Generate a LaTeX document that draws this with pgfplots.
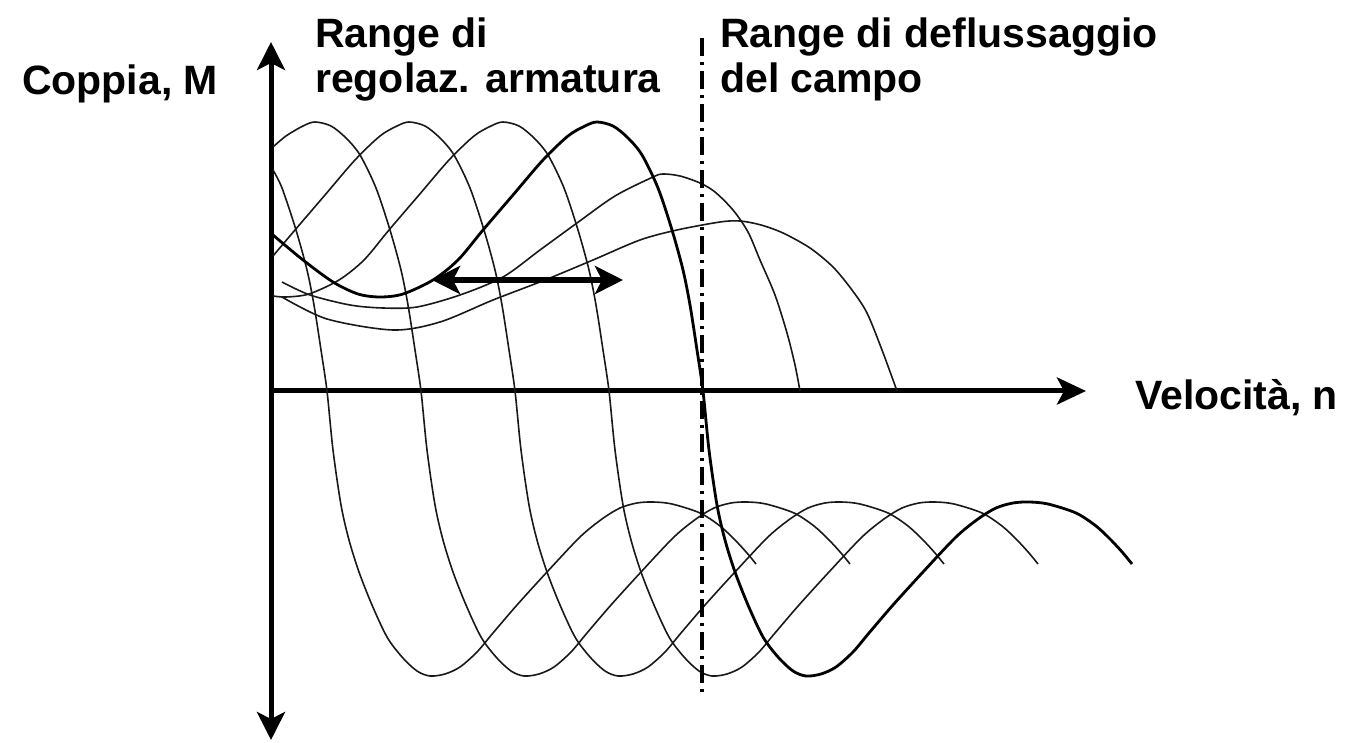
\documentclass[border=0pt]{standalone}
\usepackage{fontspec}
\setmainfont{Liberation Sans}
\usepackage{pgfplots}
\pgfplotsset{compat=1.18}
\usetikzlibrary{arrows.meta}

\begin{document}
\begin{tikzpicture}[
    lbl/.style={anchor=base west, inner sep=0pt,
                font=\fontsize{41}{49}\selectfont\bfseries},
  ]
\begin{axis}[
    hide axis, clip=false, scale only axis,
    width=1353pt, height=741pt,
    xmin=-271, xmax=1082, ymin=-350, ymax=391,
    curva/.style={black!90, line width=1.6pt, smooth, tension=0.5, no markers},
  ]
  \path (rel axis cs:0,0) rectangle (rel axis cs:1,1);

  % assi
  \addplot[line width=5pt, no markers,
    {Stealth[length=28pt,width=28pt,inset=7pt]}-{Stealth[length=28pt,width=28pt,inset=7pt]}]
    coordinates {(0,-349) (0,349)};
  \addplot[line width=5pt, no markers, -{Stealth[length=29pt,width=27pt,inset=7pt]}]
    coordinates {(0,0) (815,0)};

  % flusso costante (A, B, C, E)
  \addplot[curva] coordinates {
    (2,221) (11,203) (25,161) (36,121) (43,86) (50,41) (56,0)
    (62,-59) (70,-114) (78,-149) (88,-181) (101,-214) (116,-246) (131,-266)
    (146,-280) (159,-285) (174,-283) (189,-276) (206,-261) (222,-242)
    (246,-214) (276,-181) (309,-146) (331,-128) (349,-117) (366,-112)
    (382,-111) (401,-113) (429,-122) (449,-135) (464,-149) (476,-162) (485,-173)};
  \addplot[curva] coordinates {
    (2,244) (15,255) (32,265) (44,269) (60,265) (75,253) (89,236) (105,203)
    (119,161) (130,121) (137,86) (144,41) (150,0)
    (156,-59) (164,-114) (172,-149) (182,-181) (195,-214) (210,-246) (225,-266)
    (240,-280) (253,-285) (268,-283) (283,-276) (300,-261) (316,-242)
    (340,-214) (370,-181) (403,-146) (425,-128) (443,-117) (460,-112)
    (476,-111) (495,-113) (523,-122) (543,-135) (558,-149) (570,-162) (579,-173)};
  \addplot[curva] coordinates {
    (2,135) (24,161) (54,196) (84,231) (109,255) (126,265) (138,269) (154,265)
    (169,253) (183,236) (199,203) (213,161) (224,121) (231,86) (238,41) (244,0)
    (250,-59) (258,-114) (266,-149) (276,-181) (289,-214) (304,-246) (319,-266)
    (334,-280) (347,-285) (362,-283) (377,-276) (394,-261) (410,-242)
    (434,-214) (464,-181) (497,-146) (519,-128) (537,-117) (554,-112)
    (570,-111) (589,-113) (617,-122) (637,-135) (652,-149) (664,-162) (673,-173)};
  \addplot[curva] coordinates {
    (2,95) (15,94) (38,97) (68,111) (93,131) (118,161) (148,196) (178,231)
    (203,255) (220,265) (232,269) (248,265) (263,253) (277,236) (293,203)
    (307,161) (318,121) (325,86) (332,41) (338,0)
    (344,-59) (352,-114) (360,-149) (370,-181) (383,-214) (398,-246) (413,-266)
    (428,-280) (441,-285) (456,-283) (471,-276) (488,-261) (504,-242)
    (528,-214) (558,-181) (591,-146) (613,-128) (631,-117) (648,-112)
    (664,-111) (683,-113) (711,-122) (731,-135) (746,-149) (758,-162) (767,-173)};

  % deflussaggio
  \addplot[curva] coordinates {
    (11,109) (39,96) (79,86) (112,83) (146,84) (189,96) (232,114) (269,141)
    (306,168) (344,195) (382,214) (392,217) (409,215) (429,208) (444,199)
    (462,181) (477,159) (489,131) (504,96) (516,58) (524,26) (529,0)};
  \addplot[curva] coordinates {
    (11,94) (56,72) (122,61) (169,69) (222,91) (274,111) (322,131) (369,151)
    (406,161) (449,169) (469,170) (490,166) (512,158) (539,143) (562,124)
    (581,101) (596,78) (611,41) (626,0)};

  % curva nominale (spessa)
  \addplot[curva, black, line width=2.8pt] coordinates {
    (2,156) (32,131) (62,109) (87,97) (109,94) (132,97) (162,111) (187,131)
    (212,161) (242,196) (272,231) (297,255) (314,265) (326,269) (342,265)
    (357,253) (371,236) (387,203) (401,161) (412,121) (419,86) (426,41) (432,0)
    (438,-59) (446,-114) (454,-149) (464,-181) (477,-214) (492,-246) (507,-266)
    (522,-280) (535,-285) (550,-283) (565,-276) (582,-261) (598,-242)
    (622,-214) (652,-181) (685,-146) (707,-128) (725,-117) (742,-112)
    (758,-111) (777,-113) (805,-122) (825,-135) (840,-149) (852,-162) (861,-173)};

  % limite tra i due range
  \addplot[black, line width=3.5pt, no markers,
    dash pattern=on 18pt off 6pt on 3pt off 6pt]
    coordinates {(431,353) (431,-301)};

  % freccia doppia
  \addplot[black, line width=5.5pt, no markers,
    {Stealth[length=28pt,width=28pt,inset=7pt]}-{Stealth[length=28pt,width=28pt,inset=7pt]}]
    coordinates {(161,111) (352,111)};

  % testi
  \node[lbl] at (axis cs:-249,296) {Coppia, M};
  \node[lbl] at (axis cs:44,343) {Range di};
  \node[lbl] at (axis cs:44,298) {regolaz. armatura};
  \node[lbl] at (axis cs:449,343) {Range di deflussaggio};
  \node[lbl] at (axis cs:449,298) {del campo};
  \node[lbl] at (axis cs:864,-19) {Velocità, n};
\end{axis}
\end{tikzpicture}
\end{document}
